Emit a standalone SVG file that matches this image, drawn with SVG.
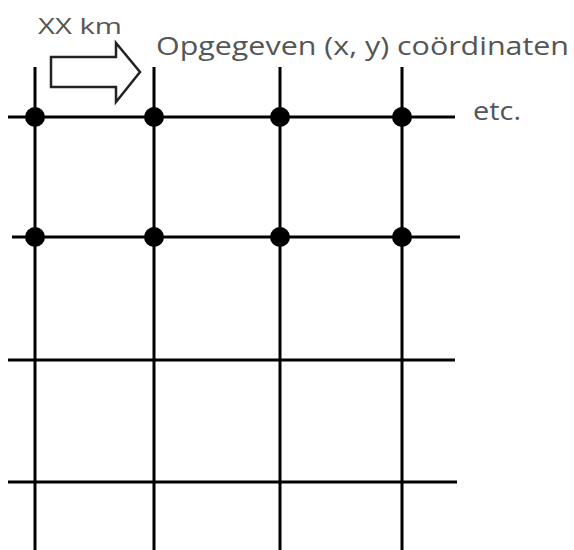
<svg xmlns="http://www.w3.org/2000/svg" width="574" height="550" viewBox="0 0 574 550">
<style>
.grid line{stroke:#000;stroke-width:3;}
.dot{fill:#000;}
text{font-family:"Open Sans","Liberation Sans",sans-serif;fill:#555;}
.arrow{fill:#fff;stroke:#222;stroke-width:2.5;stroke-linejoin:miter;}
</style>
<rect width="574" height="550" fill="#fff"/>
<g id="connectors" class="grid">
<line x1="35" y1="67" x2="35" y2="550"/>
<line x1="154" y1="67" x2="154" y2="550"/>
<line x1="280" y1="67" x2="280" y2="550"/>
<line x1="402" y1="67" x2="402" y2="550"/>
<line x1="8" y1="117" x2="455" y2="117"/>
<line x1="12" y1="237" x2="460" y2="237"/>
<line x1="8" y1="360" x2="455" y2="360"/>
<line x1="8" y1="482" x2="457" y2="482"/>
</g>
<g id="n11"><circle class="dot" cx="35" cy="117" r="10"/></g>
<g id="n12"><circle class="dot" cx="154" cy="117" r="10"/></g>
<g id="n13"><circle class="dot" cx="280" cy="117" r="10"/></g>
<g id="n14"><circle class="dot" cx="402" cy="117" r="10"/></g>
<g id="n21"><circle class="dot" cx="35" cy="237" r="10"/></g>
<g id="n22"><circle class="dot" cx="154" cy="237" r="10"/></g>
<g id="n23"><circle class="dot" cx="280" cy="237" r="10"/></g>
<g id="n24"><circle class="dot" cx="402" cy="237" r="10"/></g>
<g id="arrow"><polygon class="arrow" points="51,57 116,57 116,43 140,72 116,102 116,87 51,87"/></g>
<g id="labels">
<text x="38" y="34" font-size="22" textLength="84" lengthAdjust="spacingAndGlyphs">XX km</text>
<text x="156" y="55" font-size="25" textLength="413" lengthAdjust="spacingAndGlyphs">Opgegeven (x, y) coördinaten</text>
<text x="473" y="120" font-size="25" textLength="48" lengthAdjust="spacingAndGlyphs">etc.</text>
</g>
</svg>
